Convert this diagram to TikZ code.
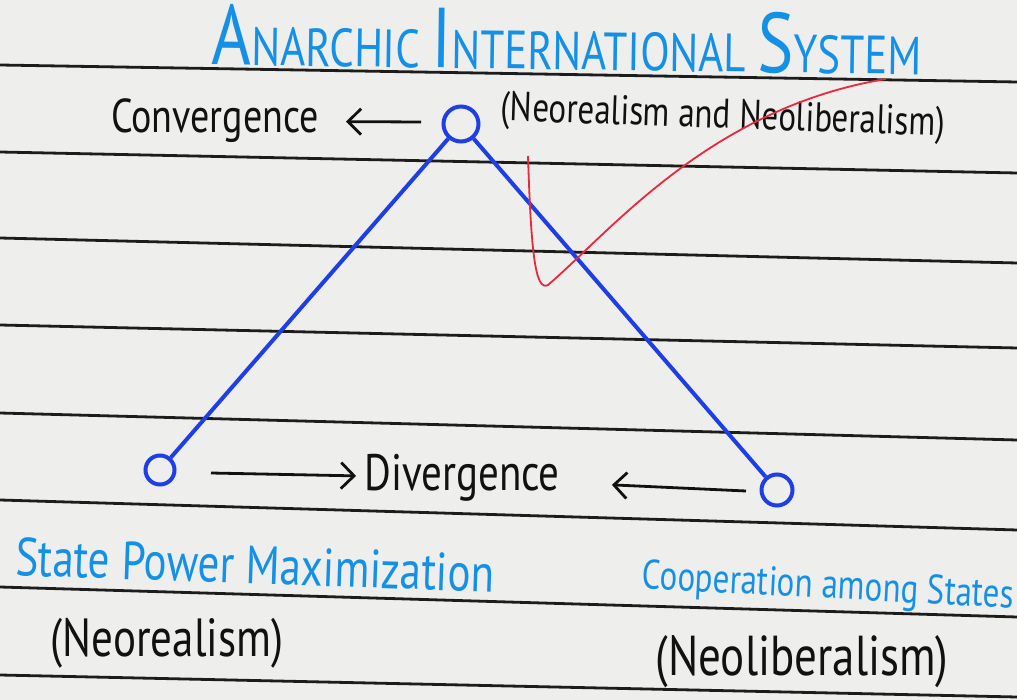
\documentclass[tikz,border=0pt]{standalone}
\usepackage{fontspec}
\usepackage{graphicx}
\setmainfont{PT Sans}
\usetikzlibrary{arrows.meta}
\definecolor{notepaper}{HTML}{EEEEEC}
\definecolor{noteruling}{HTML}{1C1C1C}
\definecolor{penblue}{HTML}{1E3FE6}
\definecolor{inkblue}{HTML}{1491E6}
\definecolor{penink}{HTML}{111111}
\definecolor{penred}{HTML}{E8283C}
\newcommand\tallcap[1]{{\fontsize{68}{68}\selectfont #1}}
\newcommand\penwrite[1]{\scalebox{1}[1.25]{#1}}
\tikzset{
  ruleline/.style={draw=noteruling, line width=2.8pt},
  penline/.style={draw=penblue, line width=4pt},
  knot/.style={circle, draw=penblue, line width=4pt, fill=notepaper,
    inner sep=0pt, minimum size=#1},
  knot/.default=26pt,
  handtext/.style={text=penink, inner sep=0pt},
  bluetext/.style={text=inkblue, inner sep=0pt},
  penarrow/.style={draw=penink, line width=2.8pt,
    -{Straight Barb[length=13pt,width=26pt,line width=2.8pt]}},
  redmark/.style={draw=penred, line width=1.8pt}
}

\begin{document}
\begin{tikzpicture}[x=1pt,y=-1pt]
  \useasboundingbox (0,0) rectangle (1017,700);
  \clip (0,0) rectangle (1017,700);
  \fill[notepaper] (0,0) rectangle (1017,700);
  % notebook ruling
  \foreach \l/\r in {65/82,152/173,238/263,325/348,413/440,500/530,587/617,675/697} {
    \draw[ruleline] (0,\l) -- (1017,\r);
  }

  \node[bluetext, rotate=-0.8, font=\fontsize{43}{43}\selectfont] (title) at (567,40)
    {\penwrite{\tallcap{A}NARCHIC \tallcap{I}NTERNATIONAL \tallcap{S}YSTEM}};
  \node[handtext, rotate=-2, font=\fontsize{33}{33}\selectfont] (schools) at (723,118)
    {\penwrite{(Neorealism and Neoliberalism)}};
  \node[handtext, font=\fontsize{38}{38}\selectfont] (conv) at (215,121) {\penwrite{Convergence}};

  % the three positions
  \node[knot=35pt] (apex) at (461,124) {};
  \node[knot=29pt] (realist) at (160,470) {};
  \node[knot=31pt] (liberal) at (777,490) {};
  \draw[penline] (apex) -- (realist);
  \draw[penline] (apex) -- (liberal);

  \coordinate (convfrom) at (421,122);
  \draw[penarrow, shorten >=27pt] (convfrom) -- (conv);

  \node[handtext, font=\fontsize{41}{41}\selectfont] (div) at (462,478) {\penwrite{Divergence}};
  \coordinate (divfromleft) at (211,473);
  \coordinate (divfromright) at (746,491);
  \draw[penarrow, shorten >=8pt] (divfromleft) -- (div);
  \draw[penarrow, shorten >=52pt] (divfromright) -- (div);

  \node[bluetext, rotate=-2, font=\fontsize{43}{43}\selectfont] (spm) at (255,565)
    {\penwrite{State Power Maximization}};
  \node[handtext, font=\fontsize{43}{43}\selectfont] (neoreal) at (167,643) {\penwrite{(Neorealism)}};
  \node[bluetext, rotate=-3, font=\fontsize{33}{33}\selectfont] (coop) at (828,588)
    {\penwrite{Cooperation among States}};
  \node[handtext, font=\fontsize{45}{45}\selectfont] (neolib) at (802,662) {\penwrite{(Neoliberalism)}};

  % red tick
  \draw[redmark] (528,156) .. controls (531,250) and (535,292) .. (548,285)
    .. controls (610,232) and (710,108) .. (886,79);
\end{tikzpicture}
\end{document}
